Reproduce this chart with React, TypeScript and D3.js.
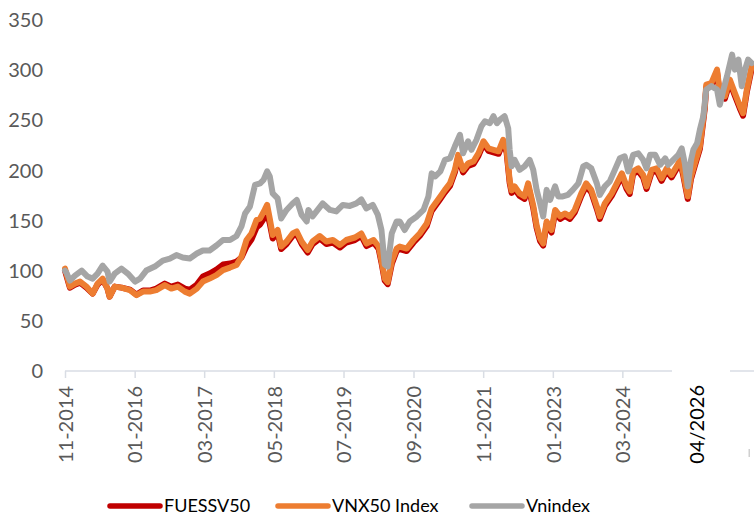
import React, { useEffect, useRef } from "react";
import * as d3 from "d3";

// sampling dates shared by the ETF and its benchmark
const vnxDates = [
  "2014-11-01", "2014-12-01", "2015-01-01", "2015-02-01", "2015-03-12", "2015-04-19", "2015-05-19", "2015-06-19",
  "2015-07-19", "2015-08-01", "2015-09-01", "2015-10-12", "2015-12-03", "2016-01-12", "2016-02-21", "2016-04-03",
  "2016-05-12", "2016-07-03", "2016-08-12", "2016-09-21", "2016-11-03", "2016-12-03", "2017-01-15", "2017-02-21",
  "2017-04-03", "2017-05-15", "2017-06-24", "2017-08-06", "2017-09-15", "2017-10-15", "2017-11-15", "2017-12-15",
  "2018-01-15", "2018-02-06", "2018-03-06", "2018-03-21", "2018-04-06", "2018-04-24", "2018-05-24", "2018-06-15",
  "2018-07-18", "2018-08-24", "2018-09-18", "2018-10-18", "2018-11-24", "2018-12-24", "2019-02-06", "2019-03-18",
  "2019-04-27", "2019-06-09", "2019-07-18", "2019-09-09", "2019-10-18", "2019-11-18", "2020-01-01", "2020-02-01",
  "2020-02-18", "2020-03-09", "2020-03-27", "2020-04-21", "2020-05-21", "2020-06-09", "2020-07-21", "2020-09-01",
  "2020-10-09", "2020-11-21", "2020-12-21", "2021-01-12", "2021-02-12", "2021-03-12", "2021-04-12", "2021-05-12",
  "2021-06-01", "2021-07-01", "2021-08-01", "2021-09-03", "2021-10-03", "2021-11-03", "2021-12-03", "2022-01-03",
  "2022-02-03", "2022-03-03", "2022-03-24", "2022-04-12", "2022-04-24", "2022-05-12", "2022-06-12", "2022-07-12",
  "2022-08-03", "2022-09-03", "2022-09-24", "2022-10-15", "2022-11-03", "2022-11-24", "2022-12-24", "2023-01-15",
  "2023-02-15", "2023-03-15", "2023-04-15", "2023-05-15", "2023-06-24", "2023-07-24", "2023-08-24", "2023-09-27",
  "2023-10-15", "2023-11-15", "2023-12-27", "2024-01-27", "2024-02-27", "2024-03-27", "2024-04-15", "2024-05-06",
  "2024-06-06", "2024-07-06", "2024-07-27", "2024-08-27", "2024-09-27", "2024-10-27", "2024-11-27", "2024-12-27",
  "2025-01-27", "2025-02-18", "2025-03-09", "2025-04-05", "2025-04-25", "2025-05-18", "2025-06-18", "2025-07-18",
  "2025-07-27", "2025-08-27", "2025-10-01", "2025-10-18", "2025-11-18", "2025-12-18", "2026-01-18", "2026-02-18",
  "2026-03-09", "2026-04-01", "2026-05-01",
];

const fuessv50 = [
  100, 83, 86, 88, 83, 77, 86, 91,
  82, 74, 84, 83, 81, 76, 80, 80,
  82, 87, 84, 86, 82, 81, 86, 94,
  97, 101, 106, 107, 109, 113, 124, 131,
  143, 146, 153, 158, 147, 132, 138, 121.5,
  126.5, 134.5, 136.5, 126.5, 118, 126.5, 132, 126.5,
  128, 123, 128, 130.5, 134.5, 124.5, 128, 121.5,
  108, 90, 86.5, 106.5, 119.5, 121.5, 119.5, 128,
  134.5, 144.5, 159.5, 164.5, 171.5, 178, 184.5, 198,
  213, 198, 204.5, 206.5, 214.5, 226.5, 219.5, 218,
  216.5, 228, 218, 187.5, 177.5, 181.5, 174.5, 171.5,
  184.5, 162.5, 142.5, 129.5, 125, 146.5, 138, 158,
  151.5, 154.5, 151.5, 158, 174.5, 184.5, 178, 161.5,
  151.5, 164.5, 174.5, 184.5, 194.5, 181.5, 176.5, 196.5,
  199.5, 193, 181.5, 198, 199.5, 189.5, 199.5, 193,
  201.5, 208, 194.5, 171.5, 191.5, 204.5, 221.5, 261.5,
  283, 284.5, 298, 274.5, 271.5, 288, 274.5, 261.5,
  254.5, 278, 301.5,
];

const vnx50 = [
  102, 84, 87, 89, 84, 77, 87, 92,
  82, 74, 84, 83, 80.5, 75.5, 79, 79,
  80.5, 85.5, 82, 84, 79, 77, 82, 89,
  92, 95.5, 100.5, 103, 105.5, 114, 130.5, 137,
  150.5, 152, 160.5, 165.5, 152, 135.5, 140.5, 124,
  129, 137, 139, 129, 120.5, 129, 134.5, 129,
  130.5, 125.5, 130.5, 133, 137, 127, 130.5, 124,
  110.5, 92, 88.5, 109, 122, 124, 122, 130.5,
  137, 147, 162, 167, 174, 180.5, 187, 200.5,
  215.5, 200.5, 207, 209, 217, 229, 222, 220.5,
  219, 230.5, 220.5, 190, 180, 184, 177, 174,
  187, 165, 145, 132, 127, 149, 140.5, 160.5,
  154, 157, 154, 160.5, 177, 187, 180.5, 164,
  154, 167, 177, 187, 197, 184, 179, 199,
  202, 195.5, 184, 200.5, 202, 192, 202, 195.5,
  204, 210.5, 197, 174, 194, 207, 224, 264,
  285.5, 287, 300.5, 277, 274, 290.5, 277, 264,
  257, 280.5, 304,
];

const vniDates = [
  "2014-11-01", "2014-11-11", "2014-12-01", "2015-01-01", "2015-02-11", "2015-03-19", "2015-04-19", "2015-05-19",
  "2015-06-19", "2015-07-19", "2015-08-01", "2015-09-01", "2015-10-12", "2015-11-20", "2016-01-03", "2016-02-03",
  "2016-03-12", "2016-05-03", "2016-06-21", "2016-08-03", "2016-09-12", "2016-10-21", "2016-12-03", "2017-01-15",
  "2017-02-21", "2017-04-03", "2017-05-15", "2017-06-24", "2017-08-06", "2017-09-15", "2017-10-15", "2017-11-06",
  "2017-12-06", "2018-01-06", "2018-02-06", "2018-02-27", "2018-03-21", "2018-04-06", "2018-04-24", "2018-05-24",
  "2018-06-15", "2018-07-18", "2018-08-24", "2018-09-18", "2018-10-18", "2018-11-18", "2018-11-28", "2018-12-24",
  "2019-01-24", "2019-02-24", "2019-04-09", "2019-05-18", "2019-06-27", "2019-08-09", "2019-09-18", "2019-10-18",
  "2019-11-18", "2019-12-27", "2020-01-27", "2020-02-18", "2020-03-09", "2020-03-27", "2020-04-21", "2020-05-21",
  "2020-06-09", "2020-07-09", "2020-08-09", "2020-09-21", "2020-11-01", "2020-12-01", "2020-12-21", "2021-01-12",
  "2021-02-12", "2021-03-12", "2021-04-12", "2021-05-12", "2021-06-12", "2021-07-01", "2021-08-01", "2021-08-21",
  "2021-09-21", "2021-10-21", "2021-11-12", "2021-12-12", "2022-01-03", "2022-01-24", "2022-02-12", "2022-03-12",
  "2022-04-03", "2022-04-12", "2022-04-24", "2022-05-12", "2022-06-12", "2022-07-12", "2022-08-12", "2022-09-03",
  "2022-09-24", "2022-10-15", "2022-11-03", "2022-11-24", "2022-12-15", "2023-01-15", "2023-02-03", "2023-03-03",
  "2023-04-03", "2023-05-03", "2023-06-06", "2023-07-06", "2023-07-24", "2023-08-24", "2023-09-27", "2023-10-15",
  "2023-11-15", "2023-12-15", "2024-01-15", "2024-02-15", "2024-03-15", "2024-04-06", "2024-05-06", "2024-06-06",
  "2024-07-06", "2024-07-27", "2024-08-18", "2024-09-18", "2024-10-18", "2024-11-18", "2024-12-06", "2025-01-06",
  "2025-02-06", "2025-02-27", "2025-03-18", "2025-04-05", "2025-04-25", "2025-05-09", "2025-06-01", "2025-06-18",
  "2025-07-09", "2025-07-27", "2025-08-27", "2025-10-01", "2025-10-18", "2025-11-09", "2025-12-01", "2026-01-01",
  "2026-01-18", "2026-02-09", "2026-03-01", "2026-03-21", "2026-04-09", "2026-05-01",
];

const vnindex = [
  100, 97.5, 90, 95, 100, 94, 92, 97,
  105, 99, 89, 97, 102, 97, 89, 92,
  100, 104, 110, 112, 115.5, 113, 112, 117,
  120, 120, 125, 130.5, 130.5, 134.5, 144, 157,
  164, 185.5, 187, 190.5, 199, 194, 177, 172,
  152, 160.5, 167, 170.5, 155.5, 149, 160.5, 154,
  160.5, 167, 160.5, 159, 165.5, 164.5, 167, 171,
  162, 165.5, 155.5, 140.5, 106, 104, 137, 149,
  149, 140.5, 149, 154, 160.5, 174, 197, 194,
  199, 210.5, 212, 224, 235.5, 217, 229, 220.5,
  230.5, 244, 249, 247, 254, 247, 250.5, 254,
  242, 220.5, 204, 210.5, 200.5, 204, 210.5, 200.5,
  180.5, 167, 154, 180.5, 170.5, 184, 174, 174,
  175.5, 180.5, 187, 204, 205.5, 202, 187, 175.5,
  184, 189, 200.5, 212, 214, 199, 215.5, 217,
  210.5, 202, 215.5, 215.5, 205.5, 212, 205.5, 210.5,
  215.5, 222, 207, 184, 210.5, 220.5, 227, 240.5,
  254, 280.5, 284, 280.5, 265.5, 280.5, 294, 315.5,
  300.5, 310.5, 284, 300.5, 310.5, 307,
];

const yTicks = [0, 50, 100, 150, 200, 250, 300, 350];
const xTickDates = [
  "2014-11-01", "2016-01-01", "2017-03-01", "2018-05-01", "2019-07-01",
  "2020-09-01", "2021-11-01", "2023-01-01", "2024-03-01", "2025-05-01",
];
const pastedLabel = "04/2026";
const seriesNames = ["FUESSV50", "VNX50 Index", "Vnindex"];
const seriesColors = ["#c00000", "#ed7d31", "#a5a5a5"];

const W = 754;
const H = 515;
const FONT = "Lato, 'Open Sans', sans-serif";

function App() {
  const ref = useRef<SVGSVGElement>(null);

  useEffect(() => {
    const parse = d3.timeParse("%Y-%m-%d");
    const svg = d3.select(ref.current);
    svg.selectAll("*").remove();

    const x = d3.scaleTime()
      .domain([parse("2014-11-01") as Date, parse("2026-05-15") as Date])
      .range([65, 754]);
    const y = d3.scaleLinear().domain([0, 350]).range([370.8, 20]);

    // y labels (no axis line, no gridlines)
    svg.append("g")
      .selectAll("text")
      .data(yTicks)
      .join("text")
      .attr("x", 43)
      .attr("y", (d) => y(d))
      .attr("dy", "0.36em")
      .attr("text-anchor", "end")
      .style("font-family", FONT)
      .style("font-size", "20px")
      .style("fill", "#595959")
      .text((d) => d);

    // x axis
    const xAxis = d3.axisBottom<Date>(x)
      .tickValues(xTickDates.map((s) => parse(s) as Date))
      .tickSize(7)
      .tickFormat((d) => d3.timeFormat("%m-%Y")(d as Date));
    const gx = svg.append("g").attr("transform", "translate(0,371)").call(xAxis);
    gx.select(".domain").attr("stroke", "#d9dde4").attr("stroke-width", 1.5).attr("d", "M65,0H754");
    gx.selectAll(".tick line").attr("stroke", "#d9dde4").attr("stroke-width", 1.5);
    gx.selectAll(".tick text")
      .attr("transform", "rotate(-90)")
      .attr("x", -15)
      .attr("y", 0)
      .attr("dy", "0.36em")
      .attr("text-anchor", "end")
      .style("font-family", FONT)
      .style("font-size", "20px")
      .style("fill", "#595959");

    // series
    const line = d3.line<[Date, number]>()
      .x((d) => x(d[0]))
      .y((d) => y(d[1]))
      .curve(d3.curveLinear);
    const series: [string[], number[]][] = [
      [vnxDates, fuessv50],
      [vnxDates, vnx50],
      [vniDates, vnindex],
    ];
    series.forEach(([dates, vals], i) => {
      const pts = dates.map((s, k) => [parse(s) as Date, vals[k]] as [Date, number]);
      svg.append("path")
        .attr("d", line(pts))
        .attr("fill", "none")
        .attr("stroke", seriesColors[i])
        .attr("stroke-width", 6)
        .attr("stroke-linejoin", "round")
        .attr("stroke-linecap", "round");
    });

    // pasted-over last label
    svg.append("rect").attr("x", 672).attr("y", 366).attr("width", 58).attr("height", 110).attr("fill", "#fff");
    svg.append("text")
      .attr("transform", "translate(697,385) rotate(-90)")
      .attr("dy", "0.36em")
      .attr("text-anchor", "end")
      .style("font-family", FONT)
      .style("font-size", "20px")
      .style("fill", "#000")
      .text(pastedLabel);
    svg.append("rect").attr("x", 748.5).attr("y", 449).attr("width", 1.5).attr("height", 8).attr("fill", "#d0d0d0");

    // legend
    const legendX = [110, 278, 472];
    const lg = svg.append("g").selectAll("g").data(seriesNames).join("g")
      .attr("transform", (_d, i) => `translate(${legendX[i]},506)`);
    lg.append("line")
      .attr("x1", 0).attr("x2", 50).attr("y1", 0).attr("y2", 0)
      .attr("stroke", (_d, i) => seriesColors[i])
      .attr("stroke-width", 5.5)
      .attr("stroke-linecap", "round");
    lg.append("text")
      .attr("x", 54)
      .attr("dy", "0.36em")
      .style("font-family", FONT)
      .style("font-size", "18px")
      .style("fill", "#000")
      .text((d) => d);
  }, []);

  return (
    <svg ref={ref} width={W} height={H} style={{ position: "absolute", left: 0, top: 0, background: "#fff" }} />
  );
}

export default App;
